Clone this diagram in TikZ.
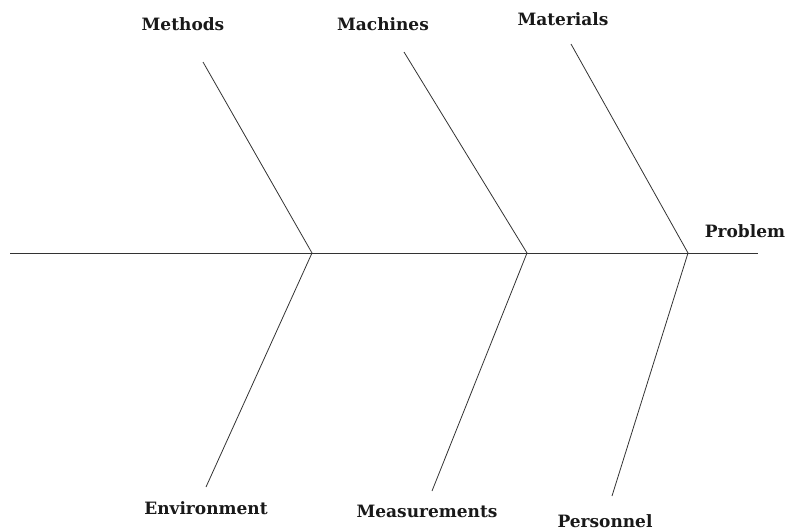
\documentclass[tikz,border=0pt]{standalone}
\usepackage{fontspec}
\setmainfont{DejaVu Serif}
\begin{document}
\begin{tikzpicture}[x=1pt,y=-1pt,
  bone/.style={draw=black!80, line width=0.8pt},
  cat/.style={font=\bfseries\fontsize{17}{19}\selectfont, inner sep=0pt, anchor=base, text=black!90}]
\useasboundingbox (0,0) rectangle (788,531);
% spine
\coordinate (tail) at (10,253);
\coordinate (head) at (758,253);
\coordinate (j1) at (312,253);
\coordinate (j2) at (527,253);
\coordinate (j3) at (688,253);
% branch ends
\coordinate (e1) at (203,62);
\coordinate (e2) at (404,52);
\coordinate (e3) at (571,44);
\coordinate (e4) at (206,487);
\coordinate (e5) at (432,491);
\coordinate (e6) at (612,496);
\draw[bone] (tail) -- (head);
\draw[bone] (e1) -- (j1) -- (e4);
\draw[bone] (e2) -- (j2) -- (e5);
\draw[bone] (e3) -- (j3) -- (e6);
% labels (placed by baseline)
\node[cat] (methods) at (183,30) {Methods};
\node[cat] (machines) at (383,30) {Machines};
\node[cat] (materials) at (563,25) {Materials};
\node[cat] (problem) at (745,237) {Problem};
\node[cat] (environment) at (206,514) {Environment};
\node[cat] (measurements) at (427,517) {Measurements};
\node[cat] (personnel) at (605,527.5) {Personnel};
\end{tikzpicture}
\end{document}
